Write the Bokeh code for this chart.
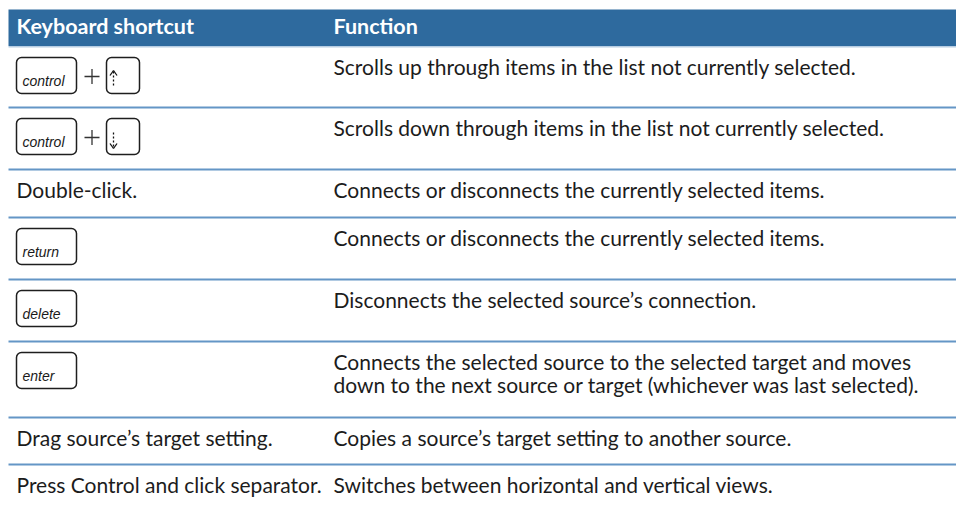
from bokeh.plotting import figure
from bokeh.models import Range1d, BoxAnnotation
from bokeh.core.properties import value
from bokeh.embed import file_html
from bokeh.resources import INLINE

# ---- table content ----
headers = ["Keyboard shortcut", "Function"]
shortcut_text = ["", "", "Double-click.", "", "", "",
                 "Drag source\u2019s target setting.",
                 "Press Control and click separator."]
key_caps = [["control", "up"], ["control", "down"], [], ["return"], ["delete"],
            ["enter"], [], []]
functions = [
    ["Scrolls up through items in the list not currently selected."],
    ["Scrolls down through items in the list not currently selected."],
    ["Connects or disconnects the currently selected items."],
    ["Connects or disconnects the currently selected items."],
    ["Disconnects the selected source\u2019s connection."],
    ["Connects the selected source to the selected target and moves",
     "down to the next source or target (whichever was last selected)."],
    ["Copies a source\u2019s target setting to another source."],
    ["Switches between horizontal and vertical views."],
]

# ---- layout ----
W, H = 956, 506
X0, X1 = 8, 956
HEAD_TOP, HEAD_BOT = 9, 45.5
row_heights = [61, 62, 48, 62, 62, 76, 47, 42]
COL1_X, COL2_X = 16, 333
FONT = "Lato"
FS = "21px"
TEXT_COLOR = "#1c1c1c"
HEAD_COLOR = "#2e6a9e"
SEP_COLOR = "#6496c6"
SHIFT_BIG = -8      # empirical baseline correction for 21px text
SHIFT_SMALL = -4.5  # for 14px key labels

p = figure(width=W, height=H, output_backend="svg", toolbar_location=None,
           x_range=Range1d(0, W), y_range=Range1d(H, 0),
           x_axis_type=None, y_axis_type=None, min_border=0)
p.outline_line_color = None
p.grid.visible = False
p.background_fill_color = "white"

# header band
p.quad(left=[X0], right=[X1], top=[HEAD_TOP], bottom=[HEAD_BOT],
       fill_color=HEAD_COLOR, line_color=None)
p.segment(x0=[X0], x1=[X1], y0=[HEAD_BOT + 0.7], y1=[HEAD_BOT + 0.7],
          line_color="#b7cde2", line_width=1.5)
p.text(x=[COL1_X, COL2_X], y=[HEAD_BOT - 12.5 + SHIFT_BIG] * 2, text=headers,
       text_color="white", text_font=value(FONT), text_font_style="bold",
       text_font_size="21.5px", text_baseline="alphabetic")

# rows
row_tops = []
t = HEAD_BOT + 0.5
for h in row_heights:
    row_tops.append(t)
    t += h

sep_y = row_tops[1:]
p.segment(x0=[X0] * len(sep_y), x1=[X1] * len(sep_y), y0=sep_y, y1=sep_y,
          line_color=SEP_COLOR, line_width=1.8)

BASE_OFF = 28
LINE_GAP = 23
fx, fy, ftxt = [], [], []
sx, sy, stxt = [], [], []
for i, top in enumerate(row_tops):
    for j, line in enumerate(functions[i]):
        fx.append(COL2_X)
        fy.append(top + BASE_OFF + j * LINE_GAP + SHIFT_BIG)
        ftxt.append(line)
    if shortcut_text[i]:
        sx.append(COL1_X)
        sy.append(top + BASE_OFF + SHIFT_BIG)
        stxt.append(shortcut_text[i])

p.text(x=fx, y=fy, text=ftxt, text_color=TEXT_COLOR, text_font=value(FONT),
       text_font_size=FS, text_baseline="alphabetic")
p.text(x=sx, y=sy, text=stxt, text_color=TEXT_COLOR, text_font=value(FONT),
       text_font_size=FS, text_baseline="alphabetic")

# key caps
KEY_TOP_OFF = 11
KEY_H = 36
WIDE_W = 60
ARROW_W = 33
PLUS_GAP = 30
kx, ky, ktxt = [], [], []
plus_h = dict(x0=[], x1=[], y0=[], y1=[])
plus_v = dict(x0=[], x1=[], y0=[], y1=[])
shaft = dict(x0=[], x1=[], y0=[], y1=[])
head = dict(x0=[], x1=[], y0=[], y1=[])
for i, top in enumerate(row_tops):
    caps = key_caps[i]
    if not caps:
        continue
    kt = top + KEY_TOP_OFF
    kb = kt + KEY_H
    left = COL1_X
    for c in caps:
        if c in ("up", "down"):
            right = left + ARROW_W
            ax = left + 7
            ytop, ybot = kt + 13, kt + 30
            shaft["x0"].append(ax); shaft["x1"].append(ax)
            shaft["y0"].append(ytop + 1); shaft["y1"].append(ybot - 1)
            tip = ytop if c == "up" else ybot
            back = tip + 5 if c == "up" else tip - 5
            for dx in (-3.5, 3.5):
                head["x0"].append(ax); head["y0"].append(tip)
                head["x1"].append(ax + dx); head["y1"].append(back)
        else:
            right = left + WIDE_W
            kx.append(left + 6)
            ky.append(kt + 28 + SHIFT_SMALL)
            ktxt.append(c)
        p.add_layout(BoxAnnotation(left=left, right=right, top=kt, bottom=kb,
                                   fill_color=None, fill_alpha=0,
                                   line_color="#1e1e1e", line_alpha=1.0,
                                   line_width=1.5, border_radius=5,
                                   editable=False))
        if c == "control":
            cx = right + 15.5
            cy = kt + 19
            plus_h["x0"].append(cx - 7.5); plus_h["x1"].append(cx + 7.5)
            plus_h["y0"].append(cy); plus_h["y1"].append(cy)
            plus_v["x0"].append(cx); plus_v["x1"].append(cx)
            plus_v["y0"].append(cy - 7.5); plus_v["y1"].append(cy + 7.5)
            left = right + PLUS_GAP
        else:
            left = right

p.text(x=kx, y=ky, text=ktxt, text_color="#1a1a1a",
       text_font=value("Liberation Sans"), text_font_style="italic",
       text_font_size="14px", text_baseline="alphabetic")
p.segment(line_color="#333333", line_width=1.3, **plus_h)
p.segment(line_color="#333333", line_width=1.3, **plus_v)
p.segment(line_color="#111111", line_width=1.3, line_dash="2 2", **shaft)
p.segment(line_color="#111111", line_width=1.3, **head)

open("out.html", "w").write(file_html(p, INLINE))
